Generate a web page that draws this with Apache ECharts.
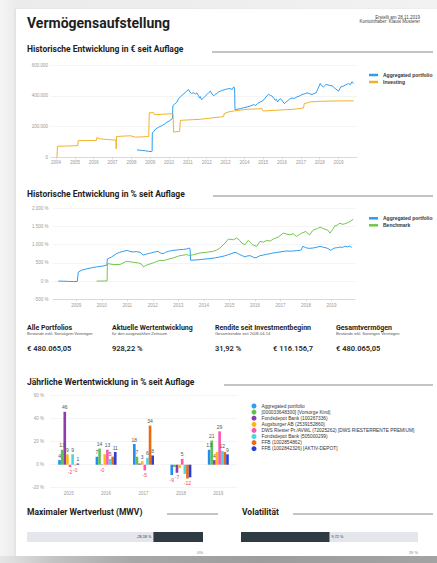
<!DOCTYPE html>
<html lang="de">
<head>
<meta charset="utf-8">
<title>Vermögensaufstellung</title>
<script src="https://cdn.jsdelivr.net/npm/echarts@6/dist/echarts.min.js"></script>
<style>
html,body{margin:0;padding:0;width:437px;height:563px;overflow:hidden;}
body{background:linear-gradient(to right,#f5f5f5 0,#ebebeb 16px,#f2f2f2 100%);position:relative;}
#paper{position:absolute;left:16px;top:9px;right:0;bottom:7px;background:#fff;box-shadow:-1px 0 2px rgba(0,0,0,0.06);}
#floor{position:absolute;left:0;right:0;bottom:0;height:7px;background:linear-gradient(to right,#e6e6e6 0,#c4c4c4 12%,#a8a8a8 30%,#9d9d9d 60%,#a3a3a3 100%);}
#chart{position:absolute;left:0;top:0;width:437px;height:563px;}
</style>
</head>
<body>
<div id="paper"></div><div id="floor"></div><div id="chart"></div>
<script>
// ---- Wertentwicklung in € (Jahr als Dezimalzahl, Wert in €) ----
const portfolioEur = [
  [2008.30,48000],[2008.45,46000],[2008.60,45000],[2008.75,42000],[2008.90,39000],[2009.05,37000],[2009.10,40000],
  [2009.11,158000],[2009.20,170000],[2009.30,185000],[2009.45,196000],[2009.60,205000],[2009.75,215000],[2009.89,229000],
  [2010.00,235000],[2010.10,245000],[2010.18,252000],[2010.20,335000],[2010.30,345000],[2010.42,360000],[2010.50,380000],
  [2010.60,393000],[2010.75,410000],[2010.85,420000],[2010.95,432000],[2011.04,441000],[2011.10,425000],[2011.20,415000],
  [2011.30,420000],[2011.40,412000],[2011.48,419000],[2011.56,400000],[2011.62,385000],[2011.66,395000],[2011.72,375000],
  [2011.80,382000],[2011.90,395000],[2012.01,408000],[2012.10,420000],[2012.19,430000],[2012.28,412000],[2012.37,399000],
  [2012.45,410000],[2012.54,415000],[2012.63,425000],[2012.72,430000],[2012.85,436000],[2012.99,441000],[2013.10,445000],
  [2013.25,447000],[2013.35,440000],[2013.43,458000],[2013.48,450000],[2013.50,310000],[2013.60,312000],[2013.78,316000],
  [2013.95,322000],[2014.14,327000],[2014.30,333000],[2014.49,342000],[2014.60,337000],[2014.70,350000],[2014.84,360000],
  [2014.95,365000],[2015.11,386000],[2015.20,400000],[2015.29,410000],[2015.38,402000],[2015.46,399000],[2015.55,385000],
  [2015.64,371000],[2015.70,378000],[2015.76,360000],[2015.83,372000],[2015.90,382000],[2016.00,370000],[2016.12,349000],
  [2016.20,358000],[2016.26,364000],[2016.40,378000],[2016.52,386000],[2016.65,382000],[2016.79,393000],[2016.92,398000],
  [2017.06,408000],[2017.20,412000],[2017.32,419000],[2017.45,414000],[2017.59,408000],[2017.70,415000],[2017.82,420000],
  [2017.88,440000],[2017.95,458000],[2018.03,480000],[2018.10,465000],[2018.20,458000],[2018.30,470000],[2018.38,473000],
  [2018.50,468000],[2018.65,465000],[2018.75,455000],[2018.82,447000],[2018.92,438000],[2019.00,430000],[2019.06,445000],
  [2019.12,458000],[2019.25,462000],[2019.35,469000],[2019.45,475000],[2019.53,480000],[2019.62,472000],[2019.71,491000],
  [2019.80,480065]
];
const investingEur = [
  [2004.05,0],[2004.07,72000],[2004.50,73000],[2005.00,75000],[2005.15,76000],[2005.17,108000],[2005.60,109000],
  [2006.14,110000],[2006.16,127000],[2006.35,120000],[2006.70,116000],[2006.97,113000],[2007.18,113000],[2007.19,55000],
  [2007.21,135000],[2007.60,138000],[2007.94,140000],[2008.21,131000],[2008.60,133000],[2008.92,135000],[2008.95,290000],
  [2009.18,290000],[2009.22,277000],[2009.70,280000],[2010.21,284000],[2010.24,164000],[2010.56,168000],[2010.60,240000],
  [2011.00,243000],[2011.66,247000],[2012.20,255000],[2012.72,262000],[2012.90,266000],[2012.93,284000],[2013.16,295000],
  [2013.43,301000],[2014.14,312000],[2014.93,316000],[2015.00,301000],[2015.55,305000],[2016.26,310000],[2016.70,313000],
  [2017.14,321000],[2017.18,349000],[2017.50,360000],[2018.03,364000],[2018.80,366000],[2019.80,367000]
];

// ---- Wertentwicklung in % ----
const portfolioPct = [
  [2008.30,0],[2008.50,-3],[2008.70,-8],[2008.90,-12],[2009.04,-10],[2009.08,245],[2009.21,300],[2009.41,336],
  [2009.60,365],[2009.80,391],[2010.00,410],[2010.13,427],[2010.20,440],[2010.22,609],[2010.39,664],[2010.50,720],
  [2010.58,755],[2010.70,790],[2010.84,818],[2011.00,845],[2011.10,815],[2011.23,800],[2011.35,810],[2011.50,791],
  [2011.58,740],[2011.63,718],[2011.72,735],[2011.82,755],[2011.92,770],[2012.02,791],[2012.12,805],[2012.21,818],
  [2012.30,770],[2012.41,755],[2012.50,790],[2012.61,818],[2012.70,830],[2012.80,845],[2012.95,855],[2013.06,864],
  [2013.20,870],[2013.32,882],[2013.43,909],[2013.46,880],[2013.48,573],[2013.65,580],[2013.85,591],[2014.05,605],
  [2014.24,618],[2014.45,640],[2014.63,664],[2014.80,690],[2014.96,727],[2015.10,760],[2015.22,791],[2015.32,765],
  [2015.41,727],[2015.50,700],[2015.61,664],[2015.70,690],[2015.80,700],[2015.90,670],[2016.00,636],[2016.10,660],
  [2016.20,700],[2016.33,715],[2016.46,736],[2016.60,755],[2016.72,773],[2016.85,785],[2016.98,800],[2017.10,815],
  [2017.24,827],[2017.38,822],[2017.50,827],[2017.62,835],[2017.76,845],[2017.82,860],[2017.87,955],[2017.95,935],
  [2018.02,909],[2018.15,900],[2018.28,909],[2018.42,930],[2018.55,955],[2018.68,930],[2018.81,909],[2018.90,880],
  [2018.96,845],[2019.05,880],[2019.13,909],[2019.23,920],[2019.33,936],[2019.43,925],[2019.52,955],[2019.62,940],
  [2019.70,960],[2019.79,928.22]
];
const benchmarkPct = [
  [2009.80,0],[2010.00,2],[2010.21,4],[2010.22,482],[2010.45,455],[2010.71,455],[2010.97,545],[2011.23,518],
  [2011.43,500],[2011.55,470],[2011.63,391],[2011.72,430],[2011.82,455],[2012.02,500],[2012.15,540],[2012.28,573],
  [2012.40,560],[2012.54,591],[2012.80,636],[2013.06,700],[2013.32,727],[2013.45,705],[2013.59,727],[2013.85,773],
  [2014.11,791],[2014.37,818],[2014.50,850],[2014.63,909],[2014.83,1045],[2014.96,1155],[2015.16,1136],[2015.29,1182],
  [2015.40,1120],[2015.48,1045],[2015.61,1000],[2015.74,1118],[2015.82,1060],[2015.90,1000],[2016.07,955],
  [2016.20,1091],[2016.33,1070],[2016.46,1118],[2016.60,1100],[2016.72,1155],[2016.91,1209],[2017.11,1318],
  [2017.25,1290],[2017.37,1273],[2017.50,1300],[2017.63,1227],[2017.75,1280],[2017.83,1318],[2018.00,1364],
  [2018.08,1300],[2018.15,1273],[2018.25,1380],[2018.35,1427],[2018.45,1440],[2018.55,1482],[2018.65,1450],
  [2018.74,1427],[2018.85,1400],[2018.94,1318],[2019.05,1420],[2019.13,1518],[2019.23,1540],[2019.33,1591],
  [2019.43,1560],[2019.52,1573],[2019.62,1600],[2019.72,1636],[2019.85,1700]
];
const yearTicks1 = [2004,2005,2006,2007,2008,2009,2010,2011,2012,2013,2014,2015,2016,2017,2018,2019];
const yearTicks2 = [2009,2010,2011,2012,2013,2014,2015,2016,2017,2018,2019];

// ---- Jährliche Wertentwicklung je Depot in % ----
const barYears = ['2015','2016','2017','2018','2019'];
const accountNames = [
  'Aggregated portfolio',
  '[000033648300] [Vorsorge Kind]',
  'Fondsdepot Bank (100267336)',
  'Augsburger AB (2539152860)',
  'DWS Riester Pr./AVWL (72025262) [DWS RIESTERRENTE PREMIUM]',
  'Fondsdepot Bank (505000299)',
  'FFB (1002854862)',
  'FFB (1002842326) [AKTIV-DEPOT]'
];
const returnsAggregated = [4, 7, 18, -9, 13];
const returnsVorsorgeKind = [13, 14, 7, -2, 21];
const returnsFondsdepot1 = [46, -0.3, 1, -7, 4];
const returnsAugsburger = [9, 9, 3, -3, 11];
const returnsDwsRiester = [-2, 13, -5, 5, 29];
const returnsFondsdepot2 = [9, 5, 6, -8, 12];
const returnsFfb = [-0.4, 7, 34, -12, 11];
const returnsFfbAktiv = [1, 11, 8, -11, 9];
const accountReturns = [returnsAggregated, returnsVorsorgeKind, returnsFondsdepot1, returnsAugsburger,
  returnsDwsRiester, returnsFondsdepot2, returnsFfb, returnsFfbAktiv];
// Labels that would collide with their neighbours stay hidden ("series:yearIndex")
const hiddenBarLabels = ['3:1','6:1','2:2','1:3','3:3','5:3','7:3','3:4','6:4'];

// ---- Kennzahlen ----
const maxDrawdown = -28.18;
const volatility = 9.72;
const volatilityScaleMax = 19.44;
const kpiTitles = ['Alle Portfolios','Aktuelle Wertentwicklung','Rendite seit Investmentbeginn','Gesamtvermögen'];
const kpiSubtitles = ['Bestände exkl. Sonstigem Vermögen','für den ausgewählten Zeitraum','Gesamtrendite seit 2008-04-14','Bestände inkl. Sonstigen Vermögen'];
const kpiValues = ['€ 480.065,05','928,22 %','31,92 %','€ 116.156,7','€ 480.065,05'];

const BLUE = '#2f9cf0', ORANGE = '#f0b22a', GREEN = '#72c64c';
const accountColors = ['#1e8ff0','#62c050','#8e3bb0','#ffb80e','#ff55b0','#4fd4e4','#ec6a12','#2b3fd2'];
const FONT = 'Roboto, "Liberation Sans", sans-serif';
const AXFONT = '"Liberation Sans", Arial, sans-serif';

const thousands = v => String(v).replace(/\B(?=(\d{3})+(?!\d))/g, '.');
const deDecimal = v => v.toFixed(2).replace('.', ',');

const chart = echarts.init(document.getElementById('chart'), null, {renderer: 'svg'});

function txt(x, y, text, size, weight, color, align, family) {
  return {type: 'text', x, y, silent: true,
    style: {text, fontSize: size, fontWeight: weight, fontFamily: family || FONT, fill: color,
      align: align || 'left', verticalAlign: 'middle'}};
}
function rule(x1, x2, y) {
  return {type: 'line', silent: true, shape: {x1, y1: y, x2, y2: y}, style: {stroke: '#6b6b6b', lineWidth: 0.8}};
}

const kpiX = [27, 112, 215, 336];
const graphics = [
  txt(27, 23, 'Vermögensaufstellung', 14, 'bold', '#1e1e1e'),
  txt(420, 17, 'Erstellt am 28.11.2019', 4.5, 'normal', '#444', 'right', AXFONT),
  txt(420, 21.5, 'Kontoinhaber: Klausi Musterer', 4.5, 'normal', '#444', 'right', AXFONT),
  txt(27, 49, 'Historische Entwicklung in € seit Auflage', 8.5, 'bold', '#1e1e1e'), rule(212, 433, 52),
  txt(27, 194, 'Historische Entwicklung in % seit Auflage', 8.5, 'bold', '#1e1e1e'), rule(213, 433, 196),
  txt(27, 382, 'Jährliche Wertentwicklung in % seit Auflage', 8.5, 'bold', '#1e1e1e'), rule(224, 433, 385),
  txt(27, 512, 'Maximaler Wertverlust (MWV)', 8.5, 'bold', '#1e1e1e'), rule(167, 218, 514),
  txt(242, 512, 'Volatilität', 8.5, 'bold', '#1e1e1e'), rule(293, 433, 514),
  txt(203, 552, '0%', 4, 'normal', '#777', 'right', AXFONT),
  txt(418, 552, '19 %', 4, 'normal', '#777', 'right', AXFONT)
];
kpiTitles.forEach((t, i) => {
  graphics.push(txt(kpiX[i], 327.5, t, 7, 'bold', '#1e1e1e'));
  graphics.push(txt(kpiX[i], 333.3, kpiSubtitles[i], 4, 'normal', '#555', 'left', AXFONT));
});
[27, 112, 215, 273, 336].forEach((x, i) => graphics.push(txt(x, 348, kpiValues[i], 7.5, 600, '#1e1e1e')));

const axisLabelStyle = {fontSize: 4.5, color: '#9a9a9a', fontFamily: AXFONT};
const splitLineStyle = {show: true, lineStyle: {color: '#efefef', width: 0.7}};

function lineSeries(name, data, color, axis) {
  return {type: 'line', name, data, xAxisIndex: axis, yAxisIndex: axis, showSymbol: false, symbol: 'none',
    lineStyle: {color, width: 1}, itemStyle: {color}, silent: true, animation: false};
}

const barSeries = accountNames.map((name, si) => ({
  type: 'bar', name, xAxisIndex: 2, yAxisIndex: 2, barGap: 0, barCategoryGap: '44%',
  itemStyle: {color: accountColors[si]}, animation: false,
  data: accountReturns[si].map((v, yi) => {
    const neg = v < 0;
    return {value: v, label: {show: hiddenBarLabels.indexOf(si + ':' + yi) < 0,
      position: neg ? 'bottom' : 'top', color: neg ? '#f0445a' : '#555'}};
  }),
  label: {fontSize: 5, fontFamily: AXFONT, distance: 2,
    formatter: p => (p.value < 0 ? '-' + Math.abs(Math.round(p.value)) : String(Math.round(p.value)))}
}));

const option = {
  animation: false,
  textStyle: {fontFamily: AXFONT},
  graphic: graphics,
  legend: [
    {left: 364, top: 67.5, orient: 'vertical', icon: 'rect', itemWidth: 9, itemHeight: 2.5, itemGap: 2,
      textStyle: {fontSize: 5, color: '#333', fontWeight: 'bold', lineHeight: 5, fontFamily: AXFONT},
      data: ['Aggregated portfolio', 'Investing'], selectedMode: false},
    {left: 364, top: 210.8, orient: 'vertical', icon: 'rect', itemWidth: 9, itemHeight: 2.5, itemGap: 2,
      textStyle: {fontSize: 5, color: '#333', fontWeight: 'bold', lineHeight: 5, fontFamily: AXFONT},
      data: ['Aggregated portfolio', 'Benchmark'], selectedMode: false},
    {left: 246.5, top: 398.5, orient: 'vertical', icon: 'circle', itemWidth: 5, itemHeight: 5, itemGap: 1.1,
      textStyle: {fontSize: 4.8, color: '#333', lineHeight: 5, fontFamily: AXFONT},
      data: accountNames, selectedMode: false}
  ],
  grid: [
    {left: 51, top: 65, width: 306, height: 92.3},
    {left: 53, top: 208.3, width: 302, height: 91},
    {left: 50, top: 395.7, width: 187, height: 92},
    {left: 27, top: 532, width: 176, height: 10},
    {left: 241, top: 532, width: 177, height: 10}
  ],
  xAxis: [
    {type: 'value', gridIndex: 0, min: 2003.73, max: 2019.98,
      axisLine: {onZero: false, lineStyle: {color: '#cfcfcf', width: 0.7}},
      axisTick: {show: true, customValues: yearTicks1, length: 2, lineStyle: {color: '#cfcfcf', width: 0.7}},
      axisLabel: Object.assign({customValues: yearTicks1, margin: 3, formatter: v => String(v)}, axisLabelStyle),
      splitLine: {show: false}},
    {type: 'value', gridIndex: 1, min: 2008.09, max: 2019.92,
      axisLine: {onZero: false, lineStyle: {color: '#cfcfcf', width: 0.7}},
      axisTick: {show: true, customValues: yearTicks2, length: 2, lineStyle: {color: '#cfcfcf', width: 0.7}},
      axisLabel: Object.assign({customValues: yearTicks2, margin: 4, formatter: v => String(v)}, axisLabelStyle),
      splitLine: {show: false}},
    {type: 'category', gridIndex: 2, data: barYears,
      axisLine: {show: false, onZero: false}, axisTick: {show: false},
      axisLabel: Object.assign({margin: 3}, axisLabelStyle)},
    {type: 'value', gridIndex: 3, min: -100, max: 0, show: false},
    {type: 'value', gridIndex: 4, min: 0, max: volatilityScaleMax, show: false}
  ],
  yAxis: [
    {type: 'value', gridIndex: 0, min: 0, max: 600000, interval: 200000,
      axisLine: {show: false}, axisTick: {show: false}, splitLine: splitLineStyle,
      axisLabel: Object.assign({margin: 3, formatter: v => thousands(v)}, axisLabelStyle)},
    {type: 'value', gridIndex: 1, min: -500, max: 2000, interval: 500,
      axisLine: {show: false}, axisTick: {show: false}, splitLine: splitLineStyle,
      axisLabel: Object.assign({margin: 4.5, formatter: v => thousands(v) + ' %'}, axisLabelStyle)},
    {type: 'value', gridIndex: 2, min: -20, max: 60, interval: 20,
      axisLine: {show: false}, axisTick: {show: false}, splitLine: splitLineStyle,
      axisLabel: Object.assign({margin: 6, formatter: v => v + ' %'}, axisLabelStyle)},
    {type: 'category', gridIndex: 3, data: ['MWV'], show: false},
    {type: 'category', gridIndex: 4, data: ['Volatilität'], show: false}
  ],
  series: [
    lineSeries('Aggregated portfolio', portfolioEur, BLUE, 0),
    lineSeries('Investing', investingEur, ORANGE, 0),
    lineSeries('Aggregated portfolio', portfolioPct, BLUE, 1),
    lineSeries('Benchmark', benchmarkPct, GREEN, 1),
    ...barSeries,
    {type: 'bar', name: 'MWV', xAxisIndex: 3, yAxisIndex: 3, data: [maxDrawdown], barWidth: '100%',
      itemStyle: {color: '#2e3b43'}, showBackground: true, backgroundStyle: {color: '#e4e6eb'},
      label: {show: true, position: 'left', distance: 2, fontSize: 3.8, color: '#333',
        formatter: p => deDecimal(p.value) + ' %'}},
    {type: 'bar', name: 'Volatilität', xAxisIndex: 4, yAxisIndex: 4, data: [volatility], barWidth: '100%',
      itemStyle: {color: '#2e3b43'}, showBackground: true, backgroundStyle: {color: '#e4e6eb'},
      label: {show: true, position: 'right', distance: 2, fontSize: 3.8, color: '#333',
        formatter: p => deDecimal(p.value) + ' %'}}
  ]
};
chart.setOption(option);
</script>
</body>
</html>
